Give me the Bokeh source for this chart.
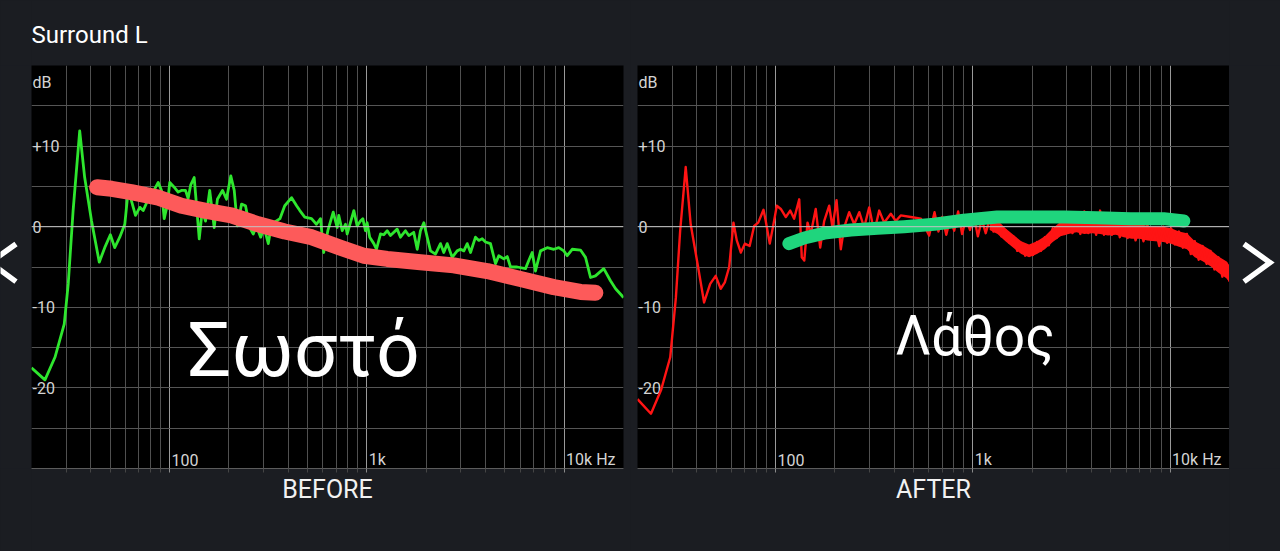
from bokeh.plotting import figure
from bokeh.layouts import row
from bokeh.models import FixedTicker, Span, Label, GlobalInlineStyleSheet
from bokeh.core.properties import value
from bokeh.embed import file_html
from bokeh.resources import INLINE

# ---------------- data ----------------
TITLE = "Surround L"
PANEL_NAMES = ["BEFORE", "AFTER"]

# BEFORE: measured response (green)
before_freq = [20, 23.4, 26.3, 29.3, 30.7, 32.5, 35.1, 37.2, 40.3, 44.1, 47, 50.2, 52.8, 56, 59.4,
               61.8, 64.2, 67.3, 70.8, 73.6, 77.4, 81.8, 87.7, 91.2, 94.1, 97.7, 100.4, 105.7, 110.7,
               115, 120.6, 124.4, 128.2, 133.5, 137, 141.6, 146.6, 152.4, 160, 168.6, 175, 185.8,
               194.6, 204.6, 213, 221, 232, 243, 255, 266, 276, 290, 302, 317, 329, 363, 384, 416,
               441, 458, 485, 525, 556, 583, 605, 635, 676, 708, 721, 751, 780, 796, 860, 894, 929,
               955, 985, 1004, 1035, 1086, 1120, 1174, 1219, 1270, 1318, 1426, 1482, 1570, 1633,
               1730, 1802, 1871, 1946, 2024, 2104, 2230, 2364, 2456, 2558, 2710, 2872, 2986, 3105,
               3230, 3356, 3556, 3698, 3846, 3997, 4236, 4492, 4666, 4950, 5150, 5352, 5786, 6374,
               6622, 6892, 7162, 7596, 8212, 8872, 9400, 9966, 10368, 10990, 12106, 12840, 13616,
               14420, 15886, 17180, 18240, 19700, 20000]
before_db = [-17.5, -19.0, -16.2, -12.1, -7.1, 2.0, 11.9, 6.1, 0.7, -4.4, -2.6, -1.0, -2.6, -1.3, 0.3,
             4.5, 3.2, 1.4, 2.4, 2.0, 3.2, 4.1, 5.5, 4.5, 1.0, 2.8, 5.5, 4.9, 4.3,
             4.5, 4.5, 3.5, 5.2, 6.1, 2.8, -1.5, 2.0, 0.7, 4.5, -0.1, 3.4, 4.5,
             3.4, 6.3, 4.5, 0.1, 2.8, 2.6, -0.1, -0.9, 0.1, -1.3, -0.1, -2.1, 0.3, 1.0, 2.6, 3.6,
             2.6, 2.0, 1.2, 1.0, 0.3, 1.0, -3.2, -0.5, 1.8, -0.1, 1.4, -0.5, 0.3, -0.9, 2.0, 0.1, 0.7,
             1.0, -0.5, 0.5, -1.3, -2.1, -2.8, -0.9, -1.0, -0.5, -1.1, -0.3, -1.3, -0.5, -1.1,
             -0.7, -2.8, -0.5, 0.5, -1.3, -3.0, -3.4, -2.1, -3.2, -2.1, -3.8, -3.0, -2.8, -3.0,
             -2.1, -3.2, -1.3, -1.7, -1.5, -1.9, -2.1, -4.6, -3.6, -4.0, -3.7, -5.0, -5.0, -5.2,
             -4.2, -3.2, -5.5, -3.0, -2.6, -2.8, -2.6, -3.0, -3.6, -2.8, -2.9, -3.8, -6.3,
             -6.1, -5.2, -6.7, -7.7, -8.6, -8.8]

# BEFORE: hand-drawn trend (red marker)
before_mark_freq = [43, 51, 64, 88, 115, 151, 206, 282, 384, 525, 736, 966, 1270, 1871, 2760,
                    4075, 6012, 8872, 12106, 14400]
before_mark_db = [4.9, 4.7, 4.3, 3.6, 2.6, 2.0, 1.4, 0.3, -0.6, -1.3, -2.6, -3.6, -4.0, -4.4, -4.8,
                  -5.5, -6.5, -7.5, -8.1, -8.2]

# AFTER: measured response (red)
after_freq = [20, 23.4, 26.3, 29.3, 31.3, 32.9, 35.1, 37.2, 40.3, 43.5, 46.7, 49.8, 52.8, 55.4, 58.3,
              61.3, 63.7, 66.8, 70, 74, 78, 81.8, 87, 89.3, 93.6, 97.4, 101.6, 106.5, 112.9, 118.8,
              124.4, 132, 136, 140, 145.4, 151, 160, 168.6, 176.6, 187.3, 194.6, 204, 214.4, 222.9,
              236.5, 250.8, 266, 281.6, 298.6, 316.6, 335.7, 355.6, 384.3, 407.5, 431.5, 485, 545.5,
              601, 640, 670, 701, 734, 769, 805, 843, 883, 924, 968, 1013, 1061, 1111, 1163, 1218,
              1275, 1335, 1398, 1464, 1533, 1605, 1681, 1760, 1843, 1929, 2020, 2115, 2215, 2319,
              2428, 2543, 2662, 2788, 2919, 3057, 3201, 3351, 3509, 3675, 3848, 4029, 4219, 4418,
              4626, 4844, 5072, 5311, 5561, 5823, 6097, 6385, 6685, 7000, 7330, 7675, 8037, 8415,
              8812, 9227, 9662, 10117, 10593, 11092, 11615, 12162, 12735, 13335, 13963, 14621,
              15310, 16031, 16786, 17577, 18405, 19272, 20000]
after_db = [-21.4, -23.2, -20.3, -16.2, -8.8, -0.5, 7.4, 0.3, -4.6, -9.4, -7.1, -6.1, -7.7, -6.9, -5.0,
            0.5, -1.7, -3.2, -2.1, -2.4, 0.1, 0.5, 2.1, 0.7, -2.1, 0.1, 2.6, 2.2, 1.2, 2.0,
            1.0, 3.4, -3.8, -4.2, 0.5, -0.9, 2.2, -2.6, 0.7, 2.6, -0.1, 3.3, -2.8, -0.1,
            1.8, 0.3, 1.8, -0.1, 2.4, -0.7, 2.0, 0.5, 1.6, 0.7, 1.4, 1.2, 1.0,
            -1.1, 1.8, -0.6, 1.2, -1.0, 1.0, -0.5, 1.9, -0.9, 1.0, -0.4, 1.4, -1.2, 0.9, -0.8, 0.9,
            -0.6, 0.6, -1.2, -0.4, -2.0, -1.2, -3.0, -2.0, -3.6, -2.4, -3.5, -1.9, -3.0, -1.3,
            -2.3, -0.2, -1.4, 0.6, -0.9, 1.6, -0.8, 1.0, -0.9, 1.9, -0.8, 1.2, -1.0, 2.0,
            -1.0, 0.9, -1.0, 1.6, -1.3, 0.7, -1.4, 0.5, -1.7, 0.4, -1.8, 0.2, -1.6, -0.1,
            -2.4, 0.0, -2.0, -0.2, -2.2, -0.6, -2.6, -0.9, -3.4, -1.8, -4.1, -2.4,
            -4.6, -3.0, -5.3, -3.8, -6.2, -4.5, -6.8]

# AFTER: spread of the dense high-frequency part (lower / upper edge of the red band)
after_band_freq = [1218, 1335, 1464, 1605, 1760, 1929, 2115,
                   2319, 2543, 2788, 3057, 3351, 3675, 4029, 4418, 4844, 5311, 5823, 6385, 7000,
                   7675, 8415, 9227, 10117, 11092, 12162, 13335, 14621, 16031, 17577, 19272, 20000]
after_band_lo = [-0.4, -0.9, -1.8, -2.6, -3.4, -3.8, -3.4,
                 -2.8, -1.9, -1.2, -0.9, -0.7, -0.9, -0.8, -0.9, -1.1, -1.0, -1.3, -1.5, -1.5,
                 -1.7, -1.8, -1.9, -2.1, -2.5, -2.8, -3.8, -4.3, -4.9, -5.7, -6.4, -6.9]
after_band_hi = [0.8, 0.8, -0.2, -1.0, -1.8, -2.2, -1.8,
                 -1.2, -0.2, 0.6, 0.9, 1.1, 1.0, 1.0, 1.0, 0.7, 0.9, 0.5, 0.3, 0.4,
                 0.1, 0.0, 0.0, -0.2, -0.6, -0.8, -1.8, -2.3, -2.9, -3.7, -4.3, -4.8]

# AFTER: hand-drawn trend (green marker)
after_mark_freq = [117, 140, 177, 241, 329, 449, 638, 901, 1330, 1962, 2900, 4270, 6300, 9290, 11740]
after_mark_db = [-2.1, -1.4, -0.8, -0.4, -0.2, 0.0, 0.3, 0.8, 1.2, 1.2, 1.2, 1.1, 1.0, 1.0, 0.7]

# axes
X_RANGE = (20, 20000)
Y_RANGE = (-30, 20)
X_MAJOR = [100, 1000, 10000]
X_MINOR = [30, 40, 50, 60, 70, 80, 90, 200, 300, 400, 500, 600, 700, 800, 900,
           2000, 3000, 4000, 5000, 6000, 7000, 8000, 9000]
X_TICK_TEXT = ["100", "1k", "10k Hz"]
Y_GRID = [-30, -25, -20, -15, -10, -5, 0, 5, 10, 15]
Y_TICK_VALUES = [10, 0, -10, -20]
Y_TICK_TEXT = ["+10", "0", "-10", "-20"]
UNIT_TEXT = "dB"
UNIT_Y = 17.9
NOTES = ["Σωστό", "Λάθος"]

# ---------------- style ----------------
BG = "#1b1d22"
FONT = "Roboto"
TICK_COLOR = "#d4d4d4"
H = 551
SIDE_LEFT_W = 31
SIDE_RIGHT_W = 51
# navigation chevrons (page decoration), in pixels of their side strips
CHEVRON_LEFT_X = [15.5, -10.5, 15.5]
CHEVRON_RIGHT_X = [14.5, 40.5, 14.5]
CHEVRON_Y = [244, 269.5, 295.5]


def side_strip(width, xs):
    s = figure(width=width, height=H, x_range=(0, width), y_range=(H, 0),
               min_border=0, background_fill_color=BG, border_fill_color=BG,
               outline_line_color=None, toolbar_location=None, output_backend="svg")
    s.axis.visible = False
    s.grid.visible = False
    s.line(xs, CHEVRON_Y, line_color="#ffffff", line_width=5.5, line_join="miter", line_cap="butt")
    return s


def make_panel(width, border_left, border_right, name):
    p = figure(width=width, height=H, x_axis_type="log", x_range=X_RANGE, y_range=Y_RANGE,
               min_border_left=border_left, min_border_right=border_right,
               min_border_top=65, min_border_bottom=83,
               background_fill_color="#000000", border_fill_color=BG,
               outline_line_color=None, toolbar_location=None, output_backend="svg")
    p.yaxis.visible = False
    ax = p.xaxis[0]
    ax.ticker = FixedTicker(ticks=X_MAJOR, minor_ticks=X_MINOR)
    ax.axis_label = name
    ax.axis_label_text_font = FONT
    ax.axis_label_text_font_size = "25px"
    ax.axis_label_text_font_style = "normal"
    ax.axis_label_text_color = "#f2f2f2"
    ax.axis_label_standoff = 2
    ax.major_label_text_font_size = "1px"
    ax.major_label_text_color = None
    ax.major_label_standoff = 0
    ax.axis_line_color = "#5c5c5c"
    ax.major_tick_line_color = "#8a8a8a"
    ax.major_tick_in = 0
    ax.major_tick_out = 4
    ax.minor_tick_line_color = "#454545"
    ax.minor_tick_in = 0
    ax.minor_tick_out = 4
    p.xgrid.grid_line_color = "#9a9a9a"
    p.xgrid.minor_grid_line_color = "#505050"
    p.ygrid.ticker = FixedTicker(ticks=Y_GRID)
    p.ygrid.grid_line_color = "#555555"
    p.add_layout(Span(location=0, dimension="width", line_color="#c4c4c4", line_width=1))

    # tick labels inside the frame
    p.text(x=[X_RANGE[0]] * len(Y_TICK_VALUES), y=Y_TICK_VALUES, text=Y_TICK_TEXT,
           text_font=value(FONT), text_font_size="16px", text_color=TICK_COLOR,
           text_align="left", text_baseline="middle", x_offset=1)
    p.text(x=[X_RANGE[0]], y=[UNIT_Y], text=[UNIT_TEXT],
           text_font=value(FONT), text_font_size="16px", text_color=TICK_COLOR,
           text_align="left", text_baseline="middle", x_offset=1)
    p.text(x=X_MAJOR, y=[Y_RANGE[0]] * len(X_MAJOR), text=X_TICK_TEXT,
           text_font=value(FONT), text_font_size="16px", text_color=TICK_COLOR,
           text_align="left", text_baseline="middle", x_offset=2, y_offset=-9)
    return p


left_strip = side_strip(SIDE_LEFT_W, CHEVRON_LEFT_X)
right_strip = side_strip(SIDE_RIGHT_W, CHEVRON_RIGHT_X)

p1 = make_panel(599, 0, 7, PANEL_NAMES[0])
p1.title.text = TITLE
p1.title.text_font = FONT
p1.title.text_font_size = "24px"
p1.title.text_font_style = "normal"
p1.title.text_color = "#ffffff"
p1.title.align = "left"
p1.title.vertical_align = "top"
p1.title.standoff = 29

p1.line(before_freq, before_db, line_color="#2ee62e", line_width=2.8, line_join="round")
p1.line(before_mark_freq, before_mark_db, line_color="#fd5a5a", line_width=16,
        line_cap="round", line_join="round")
p1.add_layout(Label(x=124, y=-15.35, text=NOTES[0], text_font=FONT, text_font_size="76px",
                    text_color="#ffffff", text_baseline="alphabetic", text_align="left"))

p2 = make_panel(599, 7, 0, PANEL_NAMES[1])
p2.varea(x=after_band_freq, y1=after_band_lo, y2=after_band_hi, fill_color="#ff1414")
p2.line(after_freq, after_db, line_color="#ff1414", line_width=2.4, line_join="round")
p2.line(after_mark_freq, after_mark_db, line_color="#1fd57d", line_width=13,
        line_cap="round", line_join="round")
p2.add_layout(Label(x=405, y=-13.5, text=NOTES[1], text_font=FONT, text_font_size="55px",
                    text_color="#ffffff", text_baseline="alphabetic", text_align="left"))

page_css = GlobalInlineStyleSheet(css="html, body { background-color: #1b1d22; margin: 0; }")
layout = row(left_strip, p1, p2, right_strip, stylesheets=[page_css], styles={"background-color": BG})
open("out.html", "w").write(file_html(layout, INLINE))
